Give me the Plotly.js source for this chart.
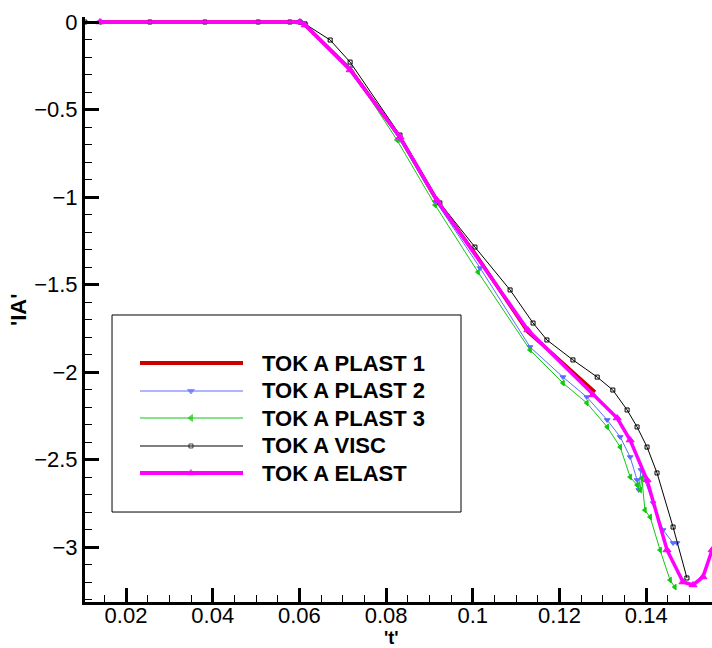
<!DOCTYPE html>
<html><head><meta charset="utf-8">
<script src="https://cdn.plot.ly/plotly-3.0.1.min.js"></script>
<style>html,body{margin:0;padding:0;background:#fff}#chart{width:712px;height:648px}</style>
</head><body><div id="chart"></div>
<script>
// ---- data ----
const seriesNames = ["TOK A PLAST 1", "TOK A PLAST 2", "TOK A PLAST 3", "TOK A VISC", "TOK A ELAST"];

const plast1X = [0.014, 0.0601, 0.0613, 0.0717, 0.0832, 0.0917, 0.1010, 0.1127, 0.1162, 0.1220, 0.1282];
const plast1Y = [0, 0, -0.017, -0.270, -0.660, -1.020, -1.340, -1.771, -1.847, -1.976, -2.114];

const plast2X = [0.014, 0.0601, 0.0613, 0.0717, 0.0832, 0.0917, 0.1017, 0.1132, 0.1208, 0.1263, 0.1310, 0.1340, 0.1363, 0.1379, 0.1383, 0.1388, 0.1416, 0.1439, 0.1462, 0.1471];
const plast2Y = [0, 0, -0.017, -0.263, -0.674, -1.034, -1.406, -1.857, -2.029, -2.143, -2.274, -2.371, -2.486, -2.617, -2.674, -2.560, -2.749, -2.903, -2.977, -2.977];

const plast3X = [0.014, 0.0601, 0.0613, 0.0717, 0.0825, 0.0913, 0.1012, 0.1132, 0.1208, 0.1263, 0.1310, 0.1340, 0.1363, 0.1379, 0.1386, 0.1390, 0.1397, 0.1409, 0.1432, 0.1455, 0.1466];
const plast3Y = [0, 0, -0.017, -0.263, -0.674, -1.046, -1.429, -1.874, -2.063, -2.177, -2.314, -2.429, -2.600, -2.646, -2.674, -2.606, -2.789, -2.829, -3.017, -3.189, -3.229];

const viscX = [0.0105, 0.0255, 0.0382, 0.0505, 0.0578, 0.0601, 0.0613, 0.0671, 0.0717, 0.0832, 0.0924, 0.1005, 0.1086, 0.1139, 0.1171, 0.1231, 0.1287, 0.1323, 0.1356, 0.1379, 0.1402, 0.1425, 0.1462, 0.1494];
const viscY = [0, 0, 0, 0, 0, 0, -0.011, -0.103, -0.229, -0.646, -1.034, -1.286, -1.531, -1.720, -1.817, -1.931, -2.029, -2.103, -2.217, -2.314, -2.429, -2.577, -2.886, -3.177];

const elastX = [0.014, 0.0601, 0.0613, 0.0717, 0.0832, 0.0917, 0.1127, 0.1277, 0.1333, 0.1363, 0.1402, 0.1448, 0.1485, 0.1508, 0.1531, 0.1552];
const elastY = [0, 0, -0.017, -0.274, -0.657, -1.017, -1.760, -2.131, -2.263, -2.389, -2.617, -3.017, -3.200, -3.217, -3.171, -3.017];

const xTitle = "'t'";
const yTitle = "'IA'";

// ---- styles ----
const FONT = 'Arial, Liberation Sans, sans-serif';
const colors = ["#cc0000", "#5a6cff", "#10c810", "#000000", "#ff00ff"];
const widths = [3.5, 1, 1, 1, 3.5];
const symbols = ["circle", "triangle-down", "triangle-left", "square-open", "triangle-up"];
const msizes = [0, 5, 5, 4, 7];
const xs = [plast1X, plast2X, plast3X, viscX, elastX];
const ys = [plast1Y, plast2Y, plast3Y, viscY, elastY];

const traces = [];
for (let i = 0; i < 5; i++) {
  traces.push({
    x: xs[i], y: ys[i], name: seriesNames[i], type: 'scatter',
    mode: i === 0 ? 'lines' : 'lines+markers',
    line: {color: colors[i], width: widths[i]},
    marker: {symbol: symbols[i], size: msizes[i], color: colors[i], line: {color: colors[i], width: 1}},
    showlegend: false, hoverinfo: 'skip'
  });
}

// ---- custom legend (paper coordinates) ----
const legRowsY = [0.4085, 0.3607, 0.3145, 0.2667, 0.2205];
const legX0 = 0.0877, legX1 = 0.2520, legXm = 0.169, legTextX = 0.279;
const shapes = [{type: 'rect', xref: 'paper', yref: 'paper', x0: 0.0431, x1: 0.5997, y0: 0.1538, y1: 0.4906,
  line: {color: '#000', width: 1}, fillcolor: 'rgba(255,255,255,1)', layer: 'below'}];
const annotations = [];
for (let i = 0; i < 5; i++) {
  shapes.push({type: 'line', xref: 'paper', yref: 'paper', x0: legX0, x1: legX1, y0: legRowsY[i], y1: legRowsY[i],
    line: {color: colors[i], width: i === 0 || i === 4 ? 4 : 1.2}});
  annotations.push({xref: 'paper', yref: 'paper', x: legTextX, y: legRowsY[i], xanchor: 'left', yanchor: 'middle',
    text: '<b>' + seriesNames[i] + '</b>', showarrow: false,
    font: {family: FONT, size: 22, color: '#000'}});
}
// axis titles
annotations.push({xref: 'paper', yref: 'paper', x: 0.4896, y: -0.0615, xanchor: 'center', yanchor: 'middle',
  text: '<b>' + xTitle + '</b>', showarrow: false, font: {family: FONT, size: 18, color: '#000'}});
annotations.push({xref: 'paper', yref: 'paper', x: -0.1069, y: 0.499, xanchor: 'center', yanchor: 'middle', textangle: -90,
  text: '<b>' + yTitle + '</b>', showarrow: false, font: {family: FONT, size: 22, color: '#000'}});

traces.push({
  x: [legXm, legXm, legXm, legXm], y: legRowsY.slice(1), xaxis: 'x2', yaxis: 'y2', type: 'scatter', mode: 'markers',
  marker: {symbol: symbols.slice(1), size: [6, 6, 4, 7], color: colors.slice(1), line: {color: colors.slice(1), width: 1}},
  showlegend: false, hoverinfo: 'skip', cliponaxis: false
});

const tickFont = {family: FONT, size: 22, color: '#000'};
const layout = {
  width: 712, height: 648,
  margin: {l: 85, r: 0, t: 17, b: 46, pad: 0},
  paper_bgcolor: '#fff', plot_bgcolor: '#fff',
  showlegend: false,
  xaxis: {
    range: [0.010542, 0.15518], tick0: 0, dtick: 0.02, ticks: 'inside', ticklen: 14, tickwidth: 3, tickcolor: '#000',
    showline: true, linewidth: 3, linecolor: '#000', showgrid: false, zeroline: false, mirror: false,
    tickfont: tickFont, ticklabelposition: 'outside', ticklabelstandoff: -8,
    minor: {dtick: 0.005, tick0: 0, ticks: 'inside', ticklen: 7, tickwidth: 1, tickcolor: '#000', showgrid: false}
  },
  yaxis: {
    range: [-3.3143, 0.0286], tick0: 0, dtick: 0.5, ticks: 'inside', ticklen: 14, tickwidth: 3, tickcolor: '#000',
    showline: true, linewidth: 3, linecolor: '#000', showgrid: false, zeroline: false, mirror: false,
    tickfont: tickFont,
    minor: {dtick: 0.1, tick0: 0, ticks: 'inside', ticklen: 7, tickwidth: 1, tickcolor: '#000', showgrid: false}
  },
  xaxis2: {overlaying: 'x', range: [0, 1], visible: false, anchor: 'y2'},
  yaxis2: {overlaying: 'y', range: [0, 1], visible: false, anchor: 'x2'},
  shapes: shapes,
  annotations: annotations
};

Plotly.newPlot('chart', traces, layout, {displayModeBar: false, staticPlot: true});
</script>
</body></html>
